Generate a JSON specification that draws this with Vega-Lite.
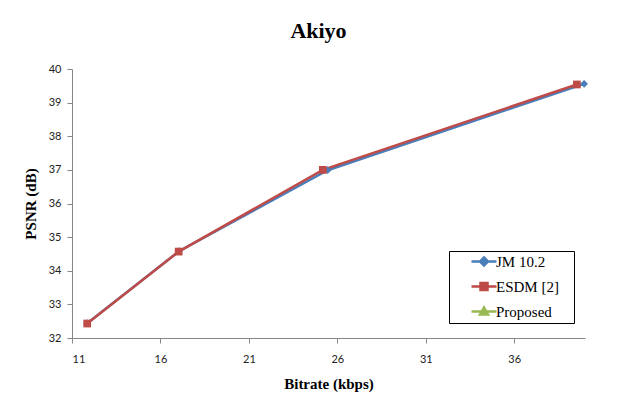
{
  "$schema": "https://vega.github.io/schema/vega-lite/v6.json",
  "width": 513,
  "height": 269,
  "autosize": {"type": "none"},
  "padding": {"left": 72, "top": 69, "right": 42, "bottom": 65},
  "background": "white",
  "title": {"text": "Akiyo", "font": "Liberation Serif", "fontSize": 22, "fontWeight": "bold", "color": "#000000", "anchor": "middle", "offset": 20, "dx": -10},
  "data": {"values": [
    {"series": "JM 10.2", "bitrate": 11.86, "psnr": 32.44},
    {"series": "JM 10.2", "bitrate": 17.05, "psnr": 34.58},
    {"series": "JM 10.2", "bitrate": 25.45, "psnr": 36.99},
    {"series": "JM 10.2", "bitrate": 39.95, "psnr": 39.56},
    {"series": "ESDM [2]", "bitrate": 11.86, "psnr": 32.43},
    {"series": "ESDM [2]", "bitrate": 17.03, "psnr": 34.57},
    {"series": "ESDM [2]", "bitrate": 25.18, "psnr": 37.0},
    {"series": "ESDM [2]", "bitrate": 39.54, "psnr": 39.54}
  ]},
  "encoding": {
    "x": {"field": "bitrate", "type": "quantitative",
      "scale": {"domain": [11, 40], "nice": false, "zero": false},
      "axis": {"title": "Bitrate (kbps)", "values": [11, 16, 21, 26, 31, 36], "grid": false,
        "domainColor": "#868686", "tickColor": "#868686", "tickSize": 5,
        "labelFont": "Lato", "labelFontSize": 11, "labelColor": "#222222", "labelPadding": 10,
        "titleFont": "Liberation Serif", "titleFontSize": 15, "titleFontWeight": "bold", "titleColor": "#000000", "titlePadding": 12}},
    "y": {"field": "psnr", "type": "quantitative",
      "scale": {"domain": [32, 40], "nice": false, "zero": false},
      "axis": {"title": "PSNR (dB)", "values": [32, 33, 34, 35, 36, 37, 38, 39, 40], "grid": false,
        "domainColor": "#868686", "tickColor": "#868686", "tickSize": 5,
        "labelFont": "Lato", "labelFontSize": 11, "labelColor": "#222222", "labelPadding": 6,
        "titleFont": "Liberation Serif", "titleFontSize": 15, "titleFontWeight": "bold", "titleColor": "#000000", "titlePadding": 10}}
  },
  "layer": [
    {"mark": {"type": "line", "strokeWidth": 2.5},
     "encoding": {
       "color": {"field": "series", "type": "nominal",
         "sort": ["JM 10.2", "ESDM [2]", "Proposed"],
         "scale": {"domain": ["JM 10.2", "ESDM [2]", "Proposed"], "range": ["#4A7EBB", "#BE4B48", "#98B954"]},
         "legend": {"title": null, "orient": "none", "legendX": 377, "legendY": 182,
           "strokeColor": "#000000", "padding": 3, "fillColor": "white",
           "labelFont": "Liberation Serif", "labelFontSize": 15, "labelColor": "#000000",
           "symbolSize": 100, "symbolStrokeWidth": 2.5, "rowPadding": 7, "labelOffset": 29,
           "encode": {"symbols": {"update": {
             "shape": {"signal": "datum.value === 'JM 10.2' ? 'M2.4,0H7.4M4.9,-0.8L5.7,0L4.9,0.8L4.1,0ZM21.2,0' : datum.value === 'ESDM [2]' ? 'M2.4,0H7.4M4.2,-0.7H5.6V0.7H4.2ZM21.2,0' : 'M2.4,0H7.4M4.9,-0.8L5.7,0.6H4.1ZM21.2,0'"},
             "fill": {"scale": "color", "field": "value"},
             "strokeWidth": {"value": 2.5}
           }}}}}
     }},
    {"transform": [{"filter": "datum.series === 'JM 10.2'"}],
     "mark": {"type": "point", "filled": true, "opacity": 1, "shape": "diamond", "size": 60, "color": "#4A7EBB"}},
    {"transform": [{"filter": "datum.series === 'ESDM [2]'"}],
     "mark": {"type": "point", "filled": true, "opacity": 1, "shape": "square", "size": 60, "color": "#BE4B48"}}
  ],
  "config": {"view": {"stroke": null}}
}
